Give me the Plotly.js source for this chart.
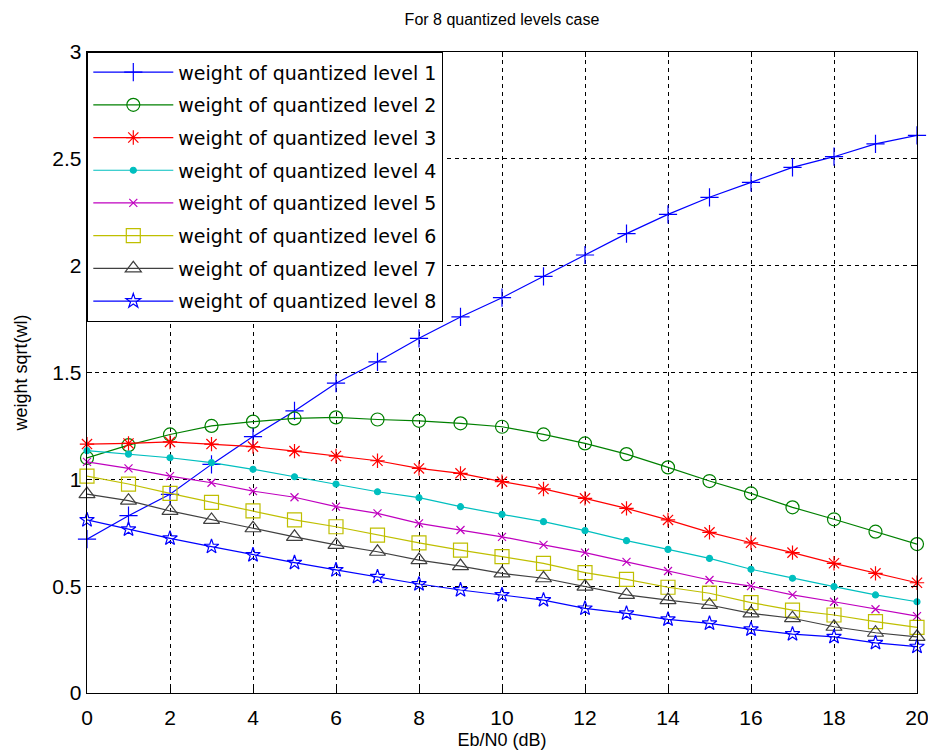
<!DOCTYPE html>
<html>
<head>
<meta charset="utf-8">
<script src="https://cdn.plot.ly/plotly-3.0.1.min.js"></script>
<style>
  html, body { margin: 0; padding: 0; background: #ffffff; }
  #chart { width: 928px; height: 753px; }
</style>
</head>
<body>
<div id="chart"></div>
<script>
// Eb/N0 (dB)
const ebno = [0,1,2,3,4,5,6,7,8,9,10,11,12,13,14,15,16,17,18,19,20];

const level1 = [0.72,0.83,0.93,1.07,1.20,1.32,1.45,1.55,1.66,1.76,1.85,1.95,2.05,2.15,2.24,2.32,2.39,2.46,2.51,2.57,2.61];
const level2 = [1.10,1.16,1.21,1.25,1.27,1.285,1.29,1.28,1.274,1.262,1.246,1.21,1.168,1.118,1.056,0.992,0.934,0.869,0.813,0.755,0.697];
const level3 = [1.165,1.168,1.175,1.165,1.153,1.132,1.109,1.087,1.051,1.028,0.989,0.955,0.911,0.864,0.810,0.752,0.703,0.657,0.607,0.560,0.516];
const level4 = [1.134,1.118,1.101,1.078,1.047,1.012,0.978,0.942,0.914,0.872,0.836,0.802,0.760,0.713,0.672,0.630,0.579,0.537,0.498,0.459,0.427];
const level5 = [1.082,1.051,1.015,0.984,0.945,0.916,0.872,0.841,0.794,0.763,0.731,0.693,0.657,0.614,0.571,0.529,0.500,0.459,0.427,0.392,0.360];
const level6 = [1.015,0.978,0.934,0.892,0.852,0.810,0.778,0.739,0.703,0.669,0.638,0.607,0.563,0.532,0.495,0.467,0.423,0.388,0.365,0.334,0.307];
const level7 = [0.931,0.900,0.852,0.810,0.771,0.731,0.693,0.661,0.622,0.594,0.560,0.537,0.498,0.459,0.435,0.412,0.373,0.350,0.310,0.282,0.263];
const level8 = [0.810,0.766,0.724,0.685,0.646,0.610,0.576,0.544,0.510,0.482,0.459,0.435,0.396,0.373,0.345,0.326,0.298,0.276,0.263,0.235,0.217];

const seriesNames = [
  'weight of quantized level 1','weight of quantized level 2','weight of quantized level 3',
  'weight of quantized level 4','weight of quantized level 5','weight of quantized level 6',
  'weight of quantized level 7','weight of quantized level 8'
];
const seriesValues = [level1, level2, level3, level4, level5, level6, level7, level8];

const xTicks = [0,2,4,6,8,10,12,14,16,18,20];
const yTicks = [0,0.5,1,1.5,2,2.5,3];
const yTickText = ['0','0.5','1','1.5','2','2.5','3'];

const colors = ['#0000ff','#008000','#ff0000','#00bfbf','#bf00bf','#bfbf00','#404040','#0000ff'];
const symbols = ['cross-thin-open','circle-open','asterisk-open','circle','x-thin-open','square-open','triangle-up-open','star-open'];
const sizes = [13,13,12,6,8,14,14,11];

const traces = seriesValues.map((vals, i) => ({
  x: ebno,
  y: vals,
  type: 'scatter',
  mode: 'lines+markers',
  name: seriesNames[i],
  legendgroup: 'g' + i,
  line: { color: colors[i], width: 1.2 },
  marker: { symbol: symbols[i], size: sizes[i], color: colors[i], line: { color: colors[i], width: 1.2 } },
  cliponaxis: false
}));

const axisCommon = {
  showline: true, linecolor: '#000', linewidth: 1.3, mirror: 'ticks',
  ticks: 'inside', ticklen: 5, tickcolor: '#000',
  showgrid: true, gridcolor: '#000', griddash: '4px,4px', gridwidth: 1,
  zeroline: false,
  ticklabeloverflow: 'allow',
  tickfont: { family: 'Liberation Sans Narrow, Liberation Sans, Arial, sans-serif', size: 21, color: '#000' }
};

const layout = {
  width: 928, height: 753,
  paper_bgcolor: '#fff', plot_bgcolor: '#fff',
  margin: { l: 87, r: 11, t: 52, b: 60 },
  showlegend: true,
  title: {
    text: 'For 8 quantized levels case',
    font: { family: 'Liberation Sans, Arial, sans-serif', size: 16, color: '#000' },
    x: 0.5, xref: 'paper', xanchor: 'center',
    y: 1 - 19 / 753, yref: 'container', yanchor: 'middle'
  },
  xaxis: Object.assign({}, axisCommon, {
    range: [0, 20], tickvals: xTicks, ticktext: xTicks.map(String),
    ticklabelstandoff: 5,
    title: { text: 'Eb/N0 (dB)', font: { family: 'Liberation Sans, Arial, sans-serif', size: 18, color: '#000' }, standoff: 6 }
  }),
  yaxis: Object.assign({}, axisCommon, {
    range: [0, 3], tickvals: yTicks, ticktext: yTickText,
    title: { text: 'weight sqrt(wl)', font: { family: 'Liberation Sans, Arial, sans-serif', size: 18, color: '#000' }, standoff: 20 }
  }),
  legend: {
    x: 0, y: 1, xanchor: 'left', yanchor: 'top', xref: 'paper', yref: 'paper',
    bgcolor: '#fff', bordercolor: '#000', borderwidth: 1.3,
    font: { family: 'DejaVu Sans, sans-serif', size: 19, color: '#000' },
    itemwidth: 80, tracegroupgap: 5,
    traceorder: 'grouped'
  }
};

Plotly.newPlot('chart', traces, layout, { displayModeBar: false, staticPlot: true });
</script>
</body>
</html>
